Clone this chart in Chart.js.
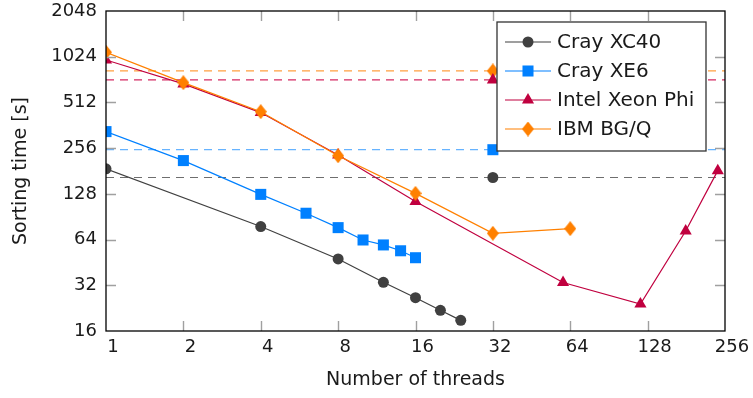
<!DOCTYPE html>
<html>
<head>
<meta charset="utf-8">
<script src="https://cdn.jsdelivr.net/npm/chart.js@4.4.1/dist/chart.umd.min.js"></script>
<style>
  html, body { margin: 0; padding: 0; background: #fff; }
  #wrap { width: 753px; height: 398px; }
</style>
</head>
<body>
<div id="wrap"><canvas id="chart" width="753" height="398"></canvas></div>
<script>
// ---------------------------------------
// Data
// ---------------------------------------

const threadTicks = [1, 2, 4, 8, 16, 32, 64, 128, 256];
const timeTicks = [16, 32, 64, 128, 256, 512, 1024, 2048];

const xc40Threads = [1, 4, 8, 12, 16, 20, 24];
const xc40Time = [187, 78, 47.7, 33.5, 26.5, 21.9, 18.8];

const xe6Threads = [1, 2, 4, 6, 8, 10, 12, 14, 16];
const xe6Time = [329, 212, 127, 95.4, 76.7, 63.6, 59, 54, 48.6];

const phiThreads = [1, 2, 4, 8, 16, 60, 120, 180, 240];
const phiTime = [975, 678, 439, 231, 114, 33.4, 24.1, 72.9, 182];

const bgqThreads = [1, 2, 4, 8, 16, 32, 64];
const bgqTime = [1096, 691, 445, 228, 129, 70.4, 75.5];

// single reference runs at 32 threads, also shown as dashed levels
const refThreads = 32;
const refNames = ["Cray XC40", "Cray XE6", "Intel Xeon Phi", "IBM BG/Q"];
const refTime = [164, 250, 720, 826];

const colors = ["#404040", "#0080ff", "#c0003f", "#ff8000"];
const dashColors = ["#6e6e6e", "#66b3ff", "#d42a62", "#ffa040"];

// ---------------------------------------
// Helpers
// ---------------------------------------

function pts(xs, ys){
    return xs.map((x, i) => ({x: x, y: ys[i]}));
}

function diamond(w, h, color){
    const c = document.createElement("canvas");
    c.width = w;
    c.height = h;
    const g = c.getContext("2d");
    g.fillStyle = color;
    g.beginPath();
    g.moveTo(w / 2, 0);
    g.lineTo(w, h / 2);
    g.lineTo(w / 2, h);
    g.lineTo(0, h / 2);
    g.closePath();
    g.fill();
    return c;
}

const bgqMark = diamond(12, 15, colors[3]);

const marks = [
    {style: "circle", radius: 5.5},
    {style: "rect", radius: 7.8},
    {style: "triangle", radius: 7},
    {style: bgqMark, radius: 7}
];

const mainSets = [
    {label: refNames[0], data: pts(xc40Threads, xc40Time)},
    {label: refNames[1], data: pts(xe6Threads, xe6Time)},
    {label: refNames[2], data: pts(phiThreads, phiTime)},
    {label: refNames[3], data: pts(bgqThreads, bgqTime)}
];

const datasets = [];

// dashed levels
refTime.forEach((v, i) => {
    datasets.push({
        label: "ref " + refNames[i],
        data: [{x: threadTicks[0], y: v}, {x: threadTicks[threadTicks.length - 1], y: v}],
        borderColor: dashColors[i],
        borderWidth: 1.2,
        borderDash: [8, 6],
        pointRadius: 0,
        order: 10,
        legend: false
    });
});

// series
mainSets.forEach((s, i) => {
    datasets.push({
        label: s.label,
        data: s.data,
        borderColor: colors[i],
        backgroundColor: colors[i],
        borderWidth: 1.2,
        pointStyle: marks[i].style,
        pointRadius: marks[i].radius,
        pointBorderWidth: 0,
        pointHoverRadius: marks[i].radius,
        order: 5 - i,
        legend: true
    });
});

// single points at 32 threads
refTime.forEach((v, i) => {
    datasets.push({
        label: "pt " + refNames[i],
        data: [{x: refThreads, y: v}],
        showLine: false,
        backgroundColor: colors[i],
        borderColor: colors[i],
        pointStyle: marks[i].style,
        pointRadius: marks[i].radius,
        pointBorderWidth: 0,
        order: 0,
        legend: false
    });
});

// ---------------------------------------
// Frame, inward ticks and legend
// ---------------------------------------

const framePlugin = {
    id: "frame",
    afterDatasetsDraw(chart){
        const {ctx, chartArea: a, scales} = chart;
        const len = 10;
        ctx.save();
        ctx.strokeStyle = "#a0a0a0";
        ctx.lineWidth = 1.4;
        ctx.beginPath();
        threadTicks.slice(1, -1).forEach(t => {
            const x = Math.round(scales.x.getPixelForValue(t)) + 0.5;
            ctx.moveTo(x, a.bottom); ctx.lineTo(x, a.bottom - len);
            ctx.moveTo(x, a.top); ctx.lineTo(x, a.top + len);
        });
        timeTicks.slice(1, -1).forEach(t => {
            const y = Math.round(scales.y.getPixelForValue(t)) + 0.5;
            ctx.moveTo(a.left, y); ctx.lineTo(a.left + len, y);
            ctx.moveTo(a.right, y); ctx.lineTo(a.right - len, y);
        });
        ctx.stroke();
        ctx.strokeStyle = "#000";
        ctx.lineWidth = 1.3;
        ctx.strokeRect(a.left, a.top, a.right - a.left, a.bottom - a.top);
        ctx.restore();
    },
    afterDraw(chart){
        const ctx = chart.ctx;
        const box = {x: 497, y: 22, w: 209, h: 129};
        ctx.save();
        ctx.fillStyle = "#fff";
        ctx.fillRect(box.x, box.y, box.w, box.h);
        ctx.strokeStyle = "#333";
        ctx.lineWidth = 1.3;
        ctx.strokeRect(box.x, box.y, box.w, box.h);
        ctx.font = "20px 'DejaVu Sans'";
        ctx.textBaseline = "middle";
        const items = chart.data.datasets.filter(d => d.legend);
        items.forEach((d, i) => {
            const y = 42 + i * 29;
            ctx.strokeStyle = d.borderColor;
            ctx.lineWidth = 1.2;
            ctx.beginPath();
            ctx.moveTo(505, y);
            ctx.lineTo(551, y);
            ctx.stroke();
            ctx.fillStyle = d.backgroundColor;
            Chart.helpers.drawPoint(ctx, {
                pointStyle: d.pointStyle,
                radius: d.pointRadius,
                rotation: 0,
                borderWidth: 0
            }, 528, y);
            ctx.fillStyle = "#1a1a1a";
            ctx.fillText(d.label, 557, y + 1);
        });
        ctx.restore();
    }
};

// ---------------------------------------
// Chart
// ---------------------------------------

Chart.defaults.font.family = "'DejaVu Sans'";
Chart.defaults.font.size = 18;
Chart.defaults.color = "#1a1a1a";

new Chart(document.getElementById("chart"), {
    type: "line",
    data: {datasets: datasets},
    plugins: [framePlugin],
    options: {
        responsive: false,
        animation: false,
        layout: {padding: {left: 0, right: 28, top: 11, bottom: 0}},
        plugins: {
            legend: {display: false},
            tooltip: {enabled: false}
        },
        scales: {
            x: {
                type: "logarithmic",
                min: 1,
                max: 256,
                afterFit(scale){
                    scale.height = 67;
                    scale.paddingLeft = 0;
                    scale.paddingRight = 0;
                },
                afterBuildTicks(scale){ scale.ticks = threadTicks.map(v => ({value: v})); },
                grid: {display: false, drawTicks: false},
                border: {display: false},
                ticks: {
                    padding: 6,
                    labelOffset: 7,
                    maxRotation: 0,
                    autoSkip: false,
                    callback: v => String(v)
                },
                title: {
                    display: true,
                    text: "Number of threads",
                    font: {size: 19, lineHeight: 1.2},
                    padding: {top: 0, bottom: 7}
                }
            },
            y: {
                type: "logarithmic",
                min: 16,
                max: 2048,
                afterFit(scale){
                    scale.width = 106;
                    scale.paddingTop = 0;
                    scale.paddingBottom = 0;
                },
                afterBuildTicks(scale){ scale.ticks = timeTicks.map(v => ({value: v})); },
                grid: {display: false, drawTicks: false},
                border: {display: false},
                ticks: {
                    padding: 9,
                    autoSkip: false,
                    callback: v => String(v)
                },
                title: {
                    display: true,
                    text: "Sorting time [s]",
                    font: {size: 19, lineHeight: 1.2},
                    padding: {top: 10, bottom: 0}
                }
            }
        }
    }
});
</script>
</body>
</html>
